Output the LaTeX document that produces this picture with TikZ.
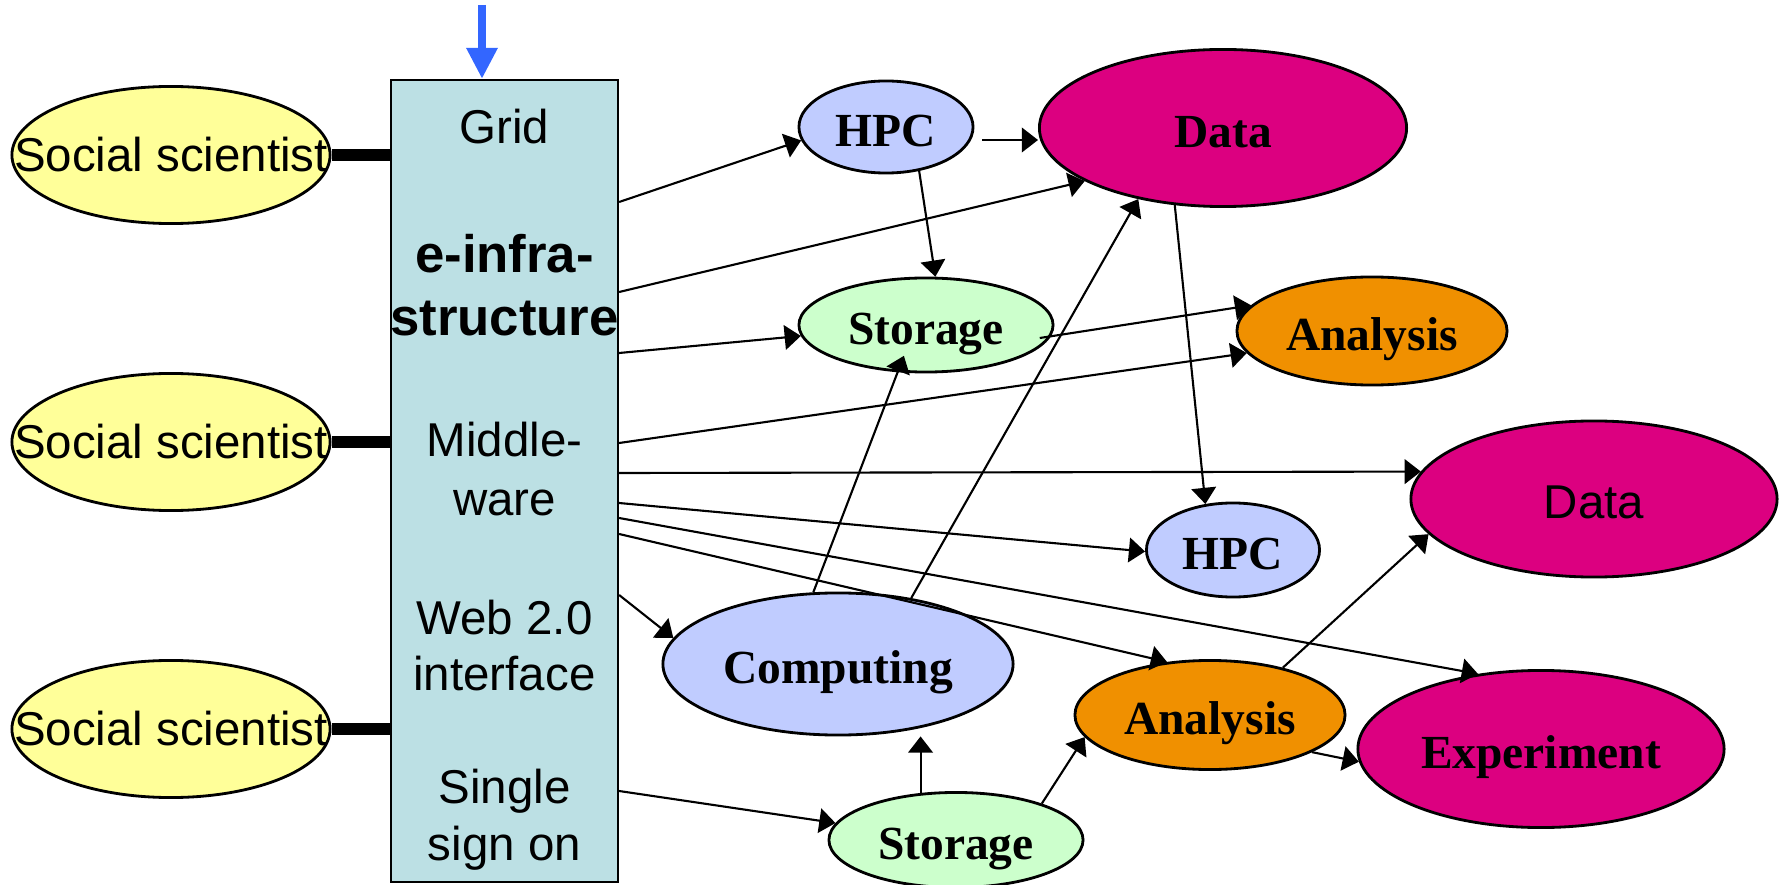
\documentclass[tikz,border=0pt]{standalone}
\usepackage{fontspec}
\setmainfont{Liberation Serif}
\setsansfont{Liberation Sans}
\usetikzlibrary{shapes.geometric,arrows.meta}
\definecolor{boxfill}{RGB}{188,224,228}
\definecolor{person}{RGB}{255,255,153}
\definecolor{compute}{RGB}{192,204,255}
\definecolor{store}{RGB}{204,255,204}
\definecolor{datafill}{RGB}{220,0,128}
\definecolor{analysis}{RGB}{240,144,0}
\definecolor{gridblue}{RGB}{51,102,255}
\tikzstyle{arrow} = [
    line width=0.6pt,
    -{Triangle[length=4.6pt,width=7pt]}
]
\tikzstyle{link} = [
    line width=3.2pt
]
\tikzstyle{blob} = [
    ellipse,
    draw,
    line width=0.8pt,
    inner sep=0pt,
    text height=13.1pt,
    text depth=2pt,
    font=\bfseries\fontsize{13.5}{16}\selectfont
]
\tikzstyle{scientist} = [
    ellipse,
    draw,
    line width=0.8pt,
    fill=person,
    minimum width=3.18cm,
    minimum height=1.37cm,
    inner sep=0pt
]
\tikzstyle{boxtext} = [
    anchor=base,
    inner sep=0pt,
    font=\sffamily\fontsize{13.5}{16}\selectfont
]
\begin{document}
\begin{tikzpicture}[x=0.01cm, y=-0.01cm]
    \useasboundingbox (0,0) rectangle (1787,885);
    % users
    \node[scientist, label={[font=\sffamily\fontsize{13.5}{16}\selectfont]center:Social scientist}] (ssA) at (171,155) {};
    \node[scientist, label={[font=\sffamily\fontsize{13.5}{16}\selectfont]center:Social scientist}] (ssB) at (171,442) {};
    \node[scientist, label={[font=\sffamily\fontsize{13.5}{16}\selectfont]center:Social scientist}] (ssC) at (171,729) {};
    % e-infrastructure column
    \node[draw, line width=0.6pt, fill=boxfill, minimum width=2.27cm, minimum height=8.02cm, inner sep=0pt] (box) at (504.5,481) {};
    \node[boxtext] (grid) at (504.5,144) {Grid};
    \node[boxtext, font=\sffamily\bfseries\fontsize{15}{18}\selectfont] (infra1) at (504.5,273) {e-infra-};
    \node[boxtext, font=\sffamily\bfseries\fontsize{15}{18}\selectfont] (infra2) at (504.5,336) {structure};
    \foreach \txt/\y [count=\i] in {Middle-/456, ware/515, Web 2.0/634, interface/690, Single/803, sign on/860}
        \node[boxtext] (line\i) at (504.5,\y) {\txt};
    \coordinate (gridtop) at (482,5);
    \draw[gridblue, line width=2pt, -{Triangle[length=8.8pt,width=8.5pt]}] (gridtop) -- (gridtop |- box.north);
    \draw[link] (ssA.east) -- (box.west |- ssA.east);
    \draw[link] (ssB.east) -- (box.west |- ssB.east);
    \draw[link] (ssC.east) -- (box.west |- ssC.east);
    % resources
    \node[blob, fill=compute, minimum width=1.74cm, minimum height=0.92cm] (hpcA) at (886,127) {HPC};
    \node[blob, fill=datafill, minimum width=3.67cm, minimum height=1.57cm] (dataA) at (1223,128) {Data};
    \node[blob, fill=store, minimum width=2.54cm, minimum height=0.94cm] (stoA) at (926,325) {Storage};
    \node[blob, fill=analysis, minimum width=2.7cm, minimum height=1.08cm] (anaA) at (1372,331) {Analysis};
    \node[blob, fill=datafill, minimum width=3.66cm, minimum height=1.56cm, font=\sffamily\fontsize{13.5}{16}\selectfont] (dataB) at (1594,499) {Data};
    \node[blob, fill=compute, minimum width=1.73cm, minimum height=0.94cm] (hpcB) at (1233,550) {HPC};
    \node[blob, fill=compute, minimum width=3.5cm, minimum height=1.42cm] (comp) at (838,664) {Computing};
    \node[blob, fill=analysis, minimum width=2.7cm, minimum height=1.09cm] (anaB) at (1210,715) {Analysis};
    \node[blob, fill=datafill, minimum width=3.66cm, minimum height=1.57cm] (expt) at (1541,749) {Experiment};
    \node[blob, fill=store, minimum width=2.54cm, minimum height=0.95cm] (stoB) at (956,840) {Storage};
    % flows
    \draw[arrow] (box.east |- 0,202) -- (hpcA.189);
    \draw[arrow] (box.east |- 0,292) -- (dataA.201);
    \draw[arrow] (box.east |- 0,353) -- (stoA.185);
    \draw[arrow] (box.east |- 0,443) -- (anaA.190);
    \draw[arrow] (box.east |- 0,473) -- (dataB.171);
    \draw[arrow] (box.east |- 0,503) -- (hpcB.181);
    \draw[arrow] (box.east |- 0,518) -- (expt.130);
    \draw[arrow] (box.east |- 0,534) -- (anaB.129);
    \draw[arrow] (box.east |- 0,595) -- (comp.171);
    \draw[arrow] (box.east |- 0,791) -- (stoB.172);
    \draw[arrow, shorten <=0.08cm] (hpcA.east |- 0,140) -- (dataA.west |- 0,140);
    \draw[arrow] (hpcA.-53) -- (stoA.79);
    \draw[arrow] ([xshift=-0.1cm]stoA.-6) -- (anaA.168);
    \draw[arrow] (dataA.238) -- (hpcB.121);
    \draw[arrow, shorten >=-5pt] (comp.109) -- (stoA.239);
    \draw[arrow] (comp.42) -- (dataA.220);
    \draw[arrow] (stoB.127) -- (stoB.127 |- comp.south);
    \draw[arrow] (stoB.23) -- (anaB.190);
    \draw[arrow] (anaB.33) -- (dataB.192);
    \draw[arrow] (anaB.-20) -- (expt.184);
\end{tikzpicture}
\end{document}
